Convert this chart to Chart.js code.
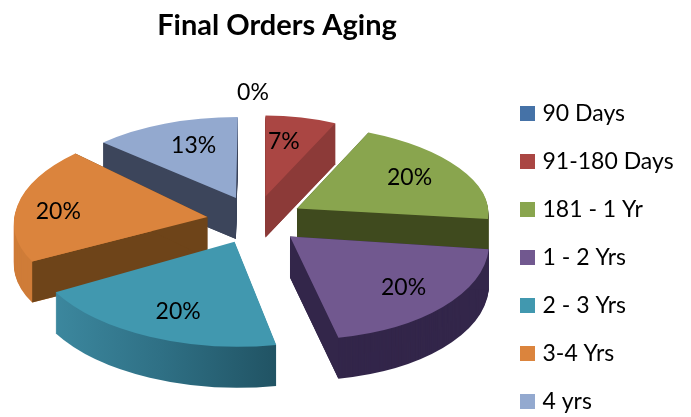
<!DOCTYPE html>
<html>
<head>
<meta charset="utf-8">
<style>html,body{margin:0;padding:0;background:#fff}canvas{display:block}</style>
<script src="https://cdn.jsdelivr.net/npm/chart.js@4"></script>
</head>
<body>
<canvas id="c" width="691" height="417"></canvas>
<script>
const categories = ['90 Days','91-180 Days','181 - 1 Yr','1 - 2 Yrs','2 - 3 Yrs','3-4 Yrs','4 yrs'];
const values = [0,7,20,20,20,20,13];
const topColors = ['#4572A7','#AA4643','#89A54E','#71588F','#4198AF','#DB843D','#93A9CF'];
const cutColors = [null,'#8C3A38','#3F4A1E','#33264A',null,'#6E4419','#3C455B'];
const rimColors = ['#2A4565','#8C3A38','#3F4A1E','#33264A','gradient','#CF7C38','#3C455B'];
const drawOrder = [6,1,2,3,5,4];
// projection of the flat pie into the tilted view, one entry per slice
const sliceRadius  = [190,164,191,199,206,193,184];
const sliceFlatten = [0.5,0.494,0.44,0.518,0.51,0.48,0.44];
const sliceShear   = [0,0,0.13,0.11,0.03,-0.136,-0.024];
const labelRadius  = [0,0.68,0.7,0.73,0.7,0.78,0.65];
const labelNudgeX  = [0,-6,-1,2,3,-1,4];
const labelNudgeY  = [0,-1,-3,0,3,4,-4];
const FONT = 'Lato';
const cx = 255, cy = 220, explode = 48, depth = 41;

function sliceGeom(el, i){
  const mid = (el.startAngle + el.endAngle) / 2, th = mid + Math.PI / 2;
  return {ax: cx + explode * Math.sin(th), ay: cy - explode * 0.5 * Math.cos(th),
          R: sliceRadius[i], k: sliceFlatten[i], sh: sliceShear[i]};
}
function place(ctx, el, g){
  ctx.translate(g.ax, g.ay);
  ctx.transform(1, 0, g.sh, 1, 0, 0);
  ctx.scale(g.R / el.outerRadius, g.k * g.R / el.outerRadius);
  ctx.translate(-el.x, -el.y);
}
function project(g, a, f){
  const dy = f * g.k * g.R * Math.sin(a);
  return [g.ax + f * g.R * Math.cos(a) + g.sh * dy, g.ay + dy];
}
function drawWith(ctx, el, color){
  const o = el.options;
  el.options = Object.create(o);
  el.options.backgroundColor = color;
  el.draw(ctx);
  el.options = o;
}
const pie3d = {
  id: 'pie3d',
  afterLayout(chart){
    const t = chart.titleBlock;
    t.left = 0; t.right = 554; t.top = 8;
    const l = chart.legend;
    l.left = 499; l.right = 691; l.top = 77; l.bottom = 500;
  },
  beforeDatasetDraw(chart){
    const ctx = chart.ctx, arcs = chart.getDatasetMeta(0).data;
    drawOrder.forEach(i => {
      const el = arcs[i], g = sliceGeom(el, i);
      let rim = rimColors[i];
      if (rim === 'gradient') {
        const gr = ctx.createLinearGradient(el.x - el.outerRadius, 0, el.x + el.outerRadius * 0.25, 0);
        gr.addColorStop(0, '#3F8DA4'); gr.addColorStop(0.5, '#2F7085'); gr.addColorStop(1, '#1F5060');
        rim = gr;
      }
      for (let d = depth; d >= 1; d--) {
        ctx.save(); ctx.translate(0, d); place(ctx, el, g);
        drawWith(ctx, el, rim);
        ctx.restore();
      }
      if (cutColors[i]) [el.startAngle, el.endAngle].forEach(a => {
        const [px, py] = project(g, a, 1);
        ctx.beginPath();
        ctx.moveTo(g.ax, g.ay); ctx.lineTo(px, py);
        ctx.lineTo(px, py + depth); ctx.lineTo(g.ax, g.ay + depth);
        ctx.closePath(); ctx.fillStyle = cutColors[i]; ctx.fill();
      });
      ctx.save(); place(ctx, el, g);
      drawWith(ctx, el, topColors[i]);
      ctx.restore();
    });
    ctx.save();
    ctx.fillStyle = '#000'; ctx.textAlign = 'center'; ctx.textBaseline = 'middle';
    ctx.font = '23px ' + FONT;
    arcs.forEach((el, i) => {
      const text = values[i] + '%';
      if (values[i] === 0) { ctx.fillText(text, cx - 2, cy - 127); return; }
      const g = sliceGeom(el, i), a = (el.startAngle + el.endAngle) / 2;
      const [px, py] = project(g, a, labelRadius[i]);
      ctx.fillText(text, px + labelNudgeX[i], py + labelNudgeY[i]);
    });
    ctx.restore();
    return false;
  }
};
new Chart(document.getElementById('c'), {
  type: 'pie',
  plugins: [pie3d],
  data: {labels: categories, datasets: [{data: values, backgroundColor: topColors, borderWidth: 0, radius: 192, hoverOffset: 0}]},
  options: {
    responsive: false, animation: false, events: [],
    layout: {padding: 0},
    plugins: {
      tooltip: {enabled: false},
      title: {display: true, text: 'Final Orders Aging', color: '#000', align: 'center',
        font: {family: FONT, size: 29, weight: 'bold'}, padding: 0},
      legend: {position: 'right', align: 'start',
        labels: {
          color: '#000', font: {family: FONT, size: 23}, padding: 25, boxWidth: 7, boxHeight: 7,
          generateLabels: () => categories.map((text, i) => ({
            text, fillStyle: topColors[i], strokeStyle: topColors[i], lineWidth: 8, hidden: false, index: i
          }))
        }}
    }
  }
});
</script>
</body>
</html>
